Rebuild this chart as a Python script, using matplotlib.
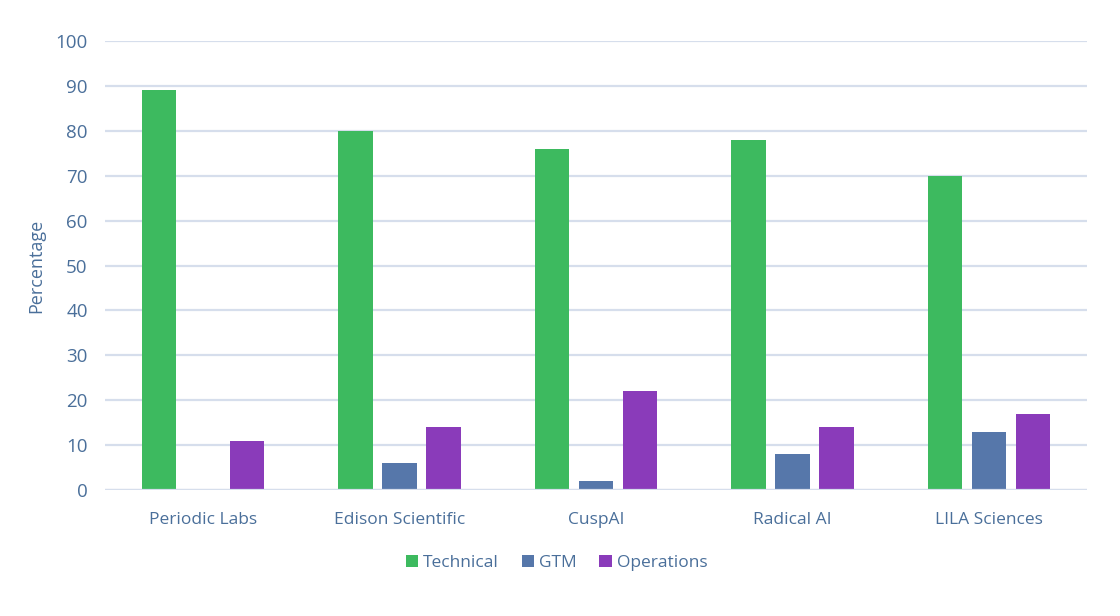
import numpy as np
import matplotlib.pyplot as plt

companies = ['Periodic Labs', 'Edison Scientific', 'CuspAI', 'Radical AI', 'LILA Sciences']
technical = [89, 80, 76, 78, 70]
gtm = [0, 6, 2, 8, 13]
operations = [11, 14, 22, 14, 17]
series_names = ['Technical', 'GTM', 'Operations']

plt.rcParams['font.family'] = ['Open Sans', 'DejaVu Sans']
text_col = '#4a6f9a'
grid_col = '#d6deec'

fig = plt.figure(figsize=(11.2, 6.16), dpi=100)
ax = fig.add_axes([0.09375, 0.2045, 0.8768, 0.7289])

x = np.arange(len(companies))
w = 0.175
step = 0.224
colors = ['#3dba5f', '#5677aa', '#8a3bba']
for i, (vals, name) in enumerate(zip([technical, gtm, operations], series_names)):
    ax.bar(x + (i - 1) * step, vals, width=w, color=colors[i], label=name, zorder=3)

ax.set_xlim(-0.5, len(companies) - 0.5)
ax.set_ylim(0, 100)
ax.set_yticks(range(0, 101, 10))
ax.grid(axis='y', color=grid_col, linewidth=1.6, zorder=0)
ax.axhline(0, color=grid_col, linewidth=1.6, zorder=4)
for s in ax.spines.values():
    s.set_visible(False)
ax.tick_params(length=0, colors=text_col, labelsize=12.5)
ax.tick_params(axis='y', pad=12.5, labelsize=13.5)
ax.tick_params(axis='x', pad=16)
ax.set_xticks(x)
ax.set_xticklabels(companies)
ax.set_ylabel('Percentage', color=text_col, fontsize=13, labelpad=7.5)

leg = fig.legend(loc='center', bbox_to_anchor=(0.497, 0.086), ncol=3, frameon=False,
                 fontsize=12.5, handlelength=0.7, handleheight=0.7, handletextpad=0.3,
                 columnspacing=1.3)
for t in leg.get_texts():
    t.set_color(text_col)

fig.savefig('out.png', dpi=100)
